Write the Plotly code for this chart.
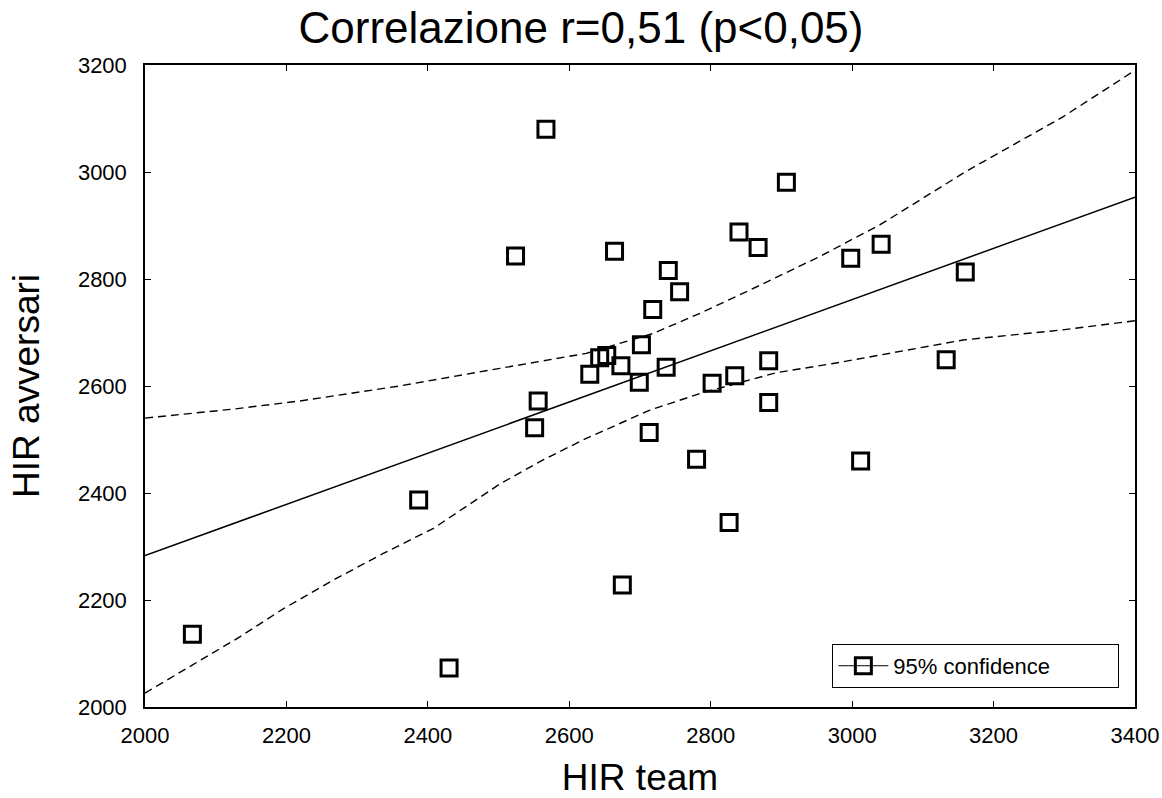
import plotly.graph_objects as go

# Data points
hir_team = [2067, 2387, 2430, 2524, 2551, 2556, 2567, 2629, 2643, 2653,
            2664, 2673, 2675, 2699, 2702, 2713, 2718, 2737, 2740, 2756,
            2780, 2802, 2826, 2834, 2840, 2867, 2882, 2882, 2907, 2998,
            3012, 3041, 3133, 3160]
hir_avversari = [2136, 2387, 2073, 2843, 2522, 2572, 3080, 2622, 2653, 2657,
                 2852, 2638, 2228, 2607, 2677, 2513, 2743, 2635, 2816, 2776,
                 2463, 2605, 2345, 2619, 2888, 2859, 2647, 2569, 2981, 2839,
                 2460, 2865, 2649, 2813]

# Regression line
fit_x = [2000, 3400]
fit_y = [2283, 2953]

# 95% confidence bands
upper_x = [2000, 2021, 2064, 2126, 2219, 2360, 2502, 2624, 2718, 2785,
           2855, 2954, 3039, 3161, 3298, 3400]
upper_y = [2540, 2543, 2548, 2557, 2572, 2600, 2633, 2661, 2698, 2736,
           2779, 2842, 2901, 3001, 3103, 3190]
lower_x = [2000, 2092, 2134, 2196, 2266, 2337, 2408, 2502, 2563, 2624,
           2714, 2785, 2893, 2973, 3067, 3157, 3298, 3400]
lower_y = [2026, 2097, 2131, 2184, 2237, 2287, 2334, 2417, 2462, 2502,
           2555, 2586, 2625, 2642, 2664, 2686, 2705, 2722]

x_ticks = [2000, 2200, 2400, 2600, 2800, 3000, 3200, 3400]
y_ticks = [2000, 2200, 2400, 2600, 2800, 3000, 3200]

FONT = "Liberation Sans, Arial, sans-serif"
dash = "8px,5px"

fig = go.Figure()
fig.add_trace(go.Scatter(x=upper_x, y=upper_y, mode="lines",
                         line=dict(color="black", width=1.4, dash=dash),
                         showlegend=False, hoverinfo="skip"))
fig.add_trace(go.Scatter(x=lower_x, y=lower_y, mode="lines",
                         line=dict(color="black", width=1.4, dash=dash),
                         showlegend=False, hoverinfo="skip"))
fig.add_trace(go.Scatter(x=fit_x, y=fit_y, mode="lines",
                         line=dict(color="black", width=1.5),
                         showlegend=False, hoverinfo="skip"))
fig.add_trace(go.Scatter(x=hir_team, y=hir_avversari, mode="markers",
                         marker=dict(symbol="square-open", size=16, color="black",
                                     line=dict(width=3, color="black")),
                         showlegend=False, name="95% confidence"))
# legend entry
fig.add_trace(go.Scatter(x=[None], y=[None], mode="lines+markers",
                         marker=dict(symbol="square-open", size=16, color="black",
                                     line=dict(width=3, color="black")),
                         line=dict(color="black", width=1),
                         name="95% confidence", showlegend=True))

axis_common = dict(showline=True, linecolor="black", linewidth=1.5, mirror="allticks",
                   ticks="inside", ticklen=6, tickwidth=1.2, tickcolor="black",
                   showgrid=False, zeroline=False, automargin=False,
                   tickfont=dict(family=FONT, size=22, color="black"))

fig.update_layout(
    width=1162, height=798,
    paper_bgcolor="white", plot_bgcolor="white",
    margin=dict(l=145, r=27, t=65, b=91, autoexpand=False),
    title=dict(text="Correlazione r=0,51 (p<0,05)", x=0.5, xref="container", xanchor="center",
               y=1 - 28 / 798, yref="container", yanchor="middle",
               font=dict(family=FONT, size=44, color="black")),
    xaxis=dict(range=[2000, 3400], tickvals=x_ticks, ticklabelstandoff=8,
               title=dict(text="HIR team", standoff=24,
                          font=dict(family=FONT, size=37, color="black")),
               **axis_common),
    yaxis=dict(range=[2000, 3200], tickvals=y_ticks, ticklabelstandoff=12,
               title=dict(text="HIR avversari", standoff=27,
                          font=dict(family=FONT, size=37, color="black")),
               **axis_common),
    legend=dict(x=0.984, y=0.030, xanchor="right", yanchor="bottom",
                orientation="h", entrywidth=219, itemwidth=50,
                bordercolor="black", borderwidth=1.2, bgcolor="white",
                font=dict(family=FONT, size=22, color="black")),
    showlegend=True,
)

fig.write_html("out.html", config={"displayModeBar": False},
               post_script="document.body.style.margin='0';document.body.style.overflow='hidden';")
